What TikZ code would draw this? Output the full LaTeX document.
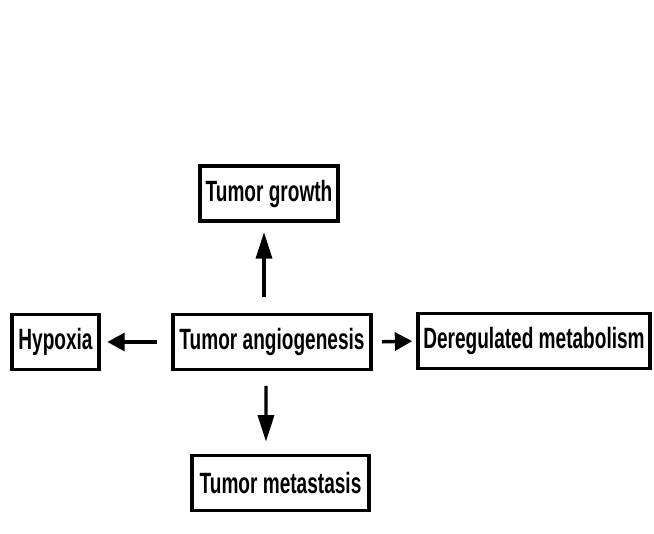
\documentclass[tikz,border=0pt]{standalone}
\usepackage{fontspec}
\setmainfont{Liberation Sans}[FakeStretch=0.65]
\usetikzlibrary{arrows.meta, calc}

\begin{document}
\begin{tikzpicture}[x=0.75pt, y=-0.75pt]
\tikzset{box/.style={draw, rectangle, line width=2.6pt, minimum height=55*0.75pt, inner xsep=4pt, font=\fontsize{22}{25}\selectfont\bfseries},
  varr/.style={line width=2.6pt, -{Triangle[length=20pt, width=12pt]}},
  harr/.style={line width=2.6pt, -{Triangle[length=13pt, width=13.5pt]}}}
\useasboundingbox (0,0) rectangle (654,534);
\node[box, minimum width=138*0.75pt] (growth) at (269,193.5) {Tumor growth};
\node[box, minimum width=87*0.75pt] (hypoxia) at (55.5,342) {Hypoxia};
\node[box, minimum width=198*0.75pt] (angio) at (272,342) {Tumor angiogenesis};
\node[box, minimum width=232*0.75pt] (dereg) at (534,341) {Deregulated metabolism};
\node[box, minimum width=177*0.75pt] (meta) at (280.5,483) {Tumor metastasis};
\draw[varr, shorten <=12pt, shorten >=7pt] ([xshift=-6pt]angio.north) -- ([xshift=-3.75pt]growth.south);
\draw[harr, shorten <=11pt, shorten >=5pt] (angio.west) -- (hypoxia.east);
\draw[harr, shorten <=7pt, shorten >=3pt] (angio.east) -- (dereg.west);
\draw[varr, shorten <=11pt, shorten >=9pt] ([xshift=-4.5pt]angio.south) -- ([xshift=-10.9pt]meta.north);
\end{tikzpicture}
\end{document}
